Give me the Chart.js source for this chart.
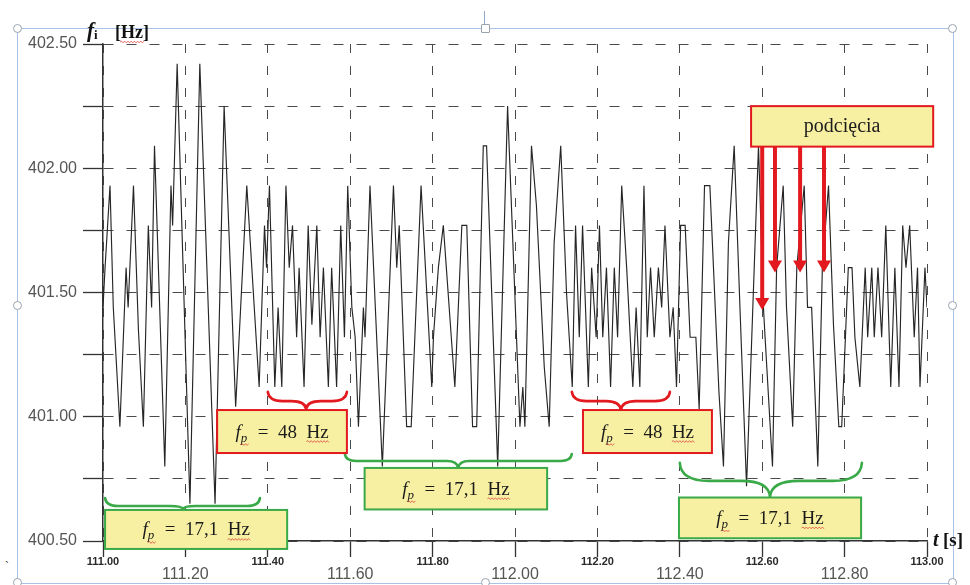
<!DOCTYPE html>
<html><head><meta charset="utf-8">
<script src="https://cdn.jsdelivr.net/npm/chart.js@4.4.1/dist/chart.umd.min.js"></script>
<style>
html,body{margin:0;padding:0;background:#fff;}
#wrap{position:relative;width:970px;height:585px;overflow:hidden;background:#fff;}
#frame{position:absolute;left:17px;top:28px;width:935px;height:554px;border:1px solid #a7c2e6;}
.h{position:absolute;width:7px;height:7px;border:1px solid #9aa3ae;border-radius:50%;background:#fff;}
#cur{position:absolute;left:484px;top:11px;width:1px;height:15px;background:#8fa8c8;}
#tick{position:absolute;left:5px;top:560px;font:12px "Liberation Sans";color:#333;}
canvas{position:absolute;left:0;top:0;}
</style></head><body>
<div id="wrap">
<div id="frame"></div>
<div id="cur"></div>
<div class="h" style="left:13px;top:24px"></div>
<div class="h" style="left:481px;top:24px;border-radius:1px"></div>
<div class="h" style="left:948px;top:24px"></div>
<div class="h" style="left:13px;top:301px"></div>
<div class="h" style="left:948px;top:301px"></div>
<div class="h" style="left:13px;top:578px"></div>
<div class="h" style="left:481px;top:578px"></div>
<div class="h" style="left:948px;top:578px"></div>
<div id="tick">`</div>
<canvas id="c" width="970" height="585"></canvas>
</div>
<script>
// ---- data: time [s] and instantaneous frequency [Hz] ----
const times = [
111.000,111.005,111.017,111.025,111.041,111.056,111.061,111.074,111.086,111.098,
111.110,111.118,111.125,111.150,111.165,111.169,111.180,111.211,111.235,111.272,
111.294,111.322,111.349,111.379,111.392,111.397,111.404,111.417,111.425,111.434,
111.444,111.452,111.460,111.470,111.476,111.488,111.498,
111.507,111.519,111.527,111.535,111.547,111.555,111.567,111.577,111.586,111.594,
111.604,111.612,111.620,111.632,111.636,111.648,111.678,111.705,111.713,111.719,
111.737,111.748,111.772,111.798,111.802,111.814,111.826,111.854,111.871,111.883,
111.897,111.907,111.923,111.931,111.958,111.982,
112.012,112.019,112.024,112.040,112.052,112.071,112.083,112.095,112.111,112.125,
112.139,112.147,112.156,112.164,112.178,112.186,112.197,112.205,112.213,112.222,
112.232,112.241,112.249,112.259,112.271,112.286,112.294,112.303,112.313,112.321,
112.329,112.338,112.348,112.356,112.364,112.376,112.384,112.392,112.402,112.413,
112.425,112.439,112.447,112.460,112.473,112.495,
112.506,112.518,112.532,112.546,112.562,112.591,112.603,112.607,112.625,112.635,
112.651,112.659,112.674,112.684,112.702,112.710,112.720,112.735,112.746,112.761,
112.773,112.786,112.793,112.809,112.818,112.825,112.837,112.850,112.856,112.866,
112.872,112.881,112.890,112.900,112.912,112.922,112.932,112.941,112.949,112.958,
112.969,112.977,112.983,112.995,113.000
];
const freqs = [
401.44,401.60,401.93,401.44,400.96,401.60,401.44,401.93,401.35,400.96,
401.77,401.44,402.09,400.80,401.93,401.77,402.42,400.65,402.42,400.65,
402.25,401.04,401.93,401.12,401.77,401.60,401.93,401.12,401.44,401.12,
401.93,401.60,401.77,401.32,401.60,401.12,401.77,
401.37,401.77,401.32,401.60,401.12,401.60,401.12,401.77,401.32,401.93,
401.44,401.32,400.96,401.44,401.32,401.93,400.80,401.93,401.60,401.77,
400.96,400.96,401.93,401.12,401.32,401.60,401.77,401.12,401.77,401.77,
400.96,400.96,402.09,402.09,400.80,402.25,
400.96,401.12,400.96,402.09,401.85,401.20,400.96,401.70,402.09,401.50,
401.12,401.77,401.32,401.77,401.12,401.60,401.32,401.77,401.32,401.60,
401.12,401.60,401.32,401.93,401.60,401.12,401.44,401.12,401.93,401.32,
401.60,401.32,401.60,401.44,401.77,401.32,401.44,401.12,401.77,401.77,
401.32,401.32,401.03,401.93,401.93,401.10,
400.80,401.70,402.09,401.44,400.72,402.09,401.44,401.32,400.80,401.60,
401.93,401.44,400.96,401.60,401.93,401.44,401.44,400.80,401.60,401.93,
401.37,400.96,400.96,401.60,401.60,401.32,401.12,401.60,401.32,401.60,
401.32,401.60,401.32,401.77,401.12,401.60,401.12,401.77,401.60,401.77,
401.32,401.60,401.12,401.60,401.44
];
const xLabelsSmall = ['111.00','111.40','111.80','112.20','112.60','113.00'];
const xLabelsLarge = ['111.20','111.60','112.00','112.40','112.80'];
const yLabels = ['400.50','401.00','401.50','402.00','402.50'];

// ---- annotation layout (in axis units) ----
const GREEN = '#3aa947', RED = '#e2191f', FILL = '#f7f0a2';
const braces = [
  {c:GREEN, x0:111.005, x1:111.381, xm:111.194, yTop:400.673, yMid:400.641, yTip:400.629},
  {c:RED,   x0:111.400, x1:111.592, xm:111.493, yTop:401.100, yMid:401.063, yTip:401.031},
  {c:GREEN, x0:111.587, x1:112.138, xm:111.862, yTop:400.850, yMid:400.822, yTip:400.794},
  {c:RED,   x0:112.138, x1:112.376, xm:112.257, yTop:401.100, yMid:401.063, yTip:401.027},
  {c:GREEN, x0:112.400, x1:112.842, xm:112.619, yTop:400.815, yMid:400.742, yTip:400.677}
];
const boxes = [
  {c:GREEN, t0:111.005, t1:111.447, f0:400.625, f1:400.468, rest:'  =  17,1  Hz'},
  {c:RED,   t0:111.277, t1:111.592, f0:401.027, f1:400.854, rest:'  =  48  Hz'},
  {c:GREEN, t0:111.635, t1:112.078, f0:400.794, f1:400.627, rest:'  =  17,1  Hz'},
  {c:RED,   t0:112.165, t1:112.478, f0:401.027, f1:400.854, rest:'  =  48  Hz'},
  {c:GREEN, t0:112.398, t1:112.840, f0:400.675, f1:400.511, rest:'  =  17,1  Hz'},
  {c:RED,   t0:112.573, t1:113.015, f0:402.250, f1:402.087, text:'podcięcia'}
];
const arrows = [
  {t:112.600, from:402.087, to:401.43},
  {t:112.631, from:402.087, to:401.58},
  {t:112.692, from:402.087, to:401.58},
  {t:112.750, from:402.087, to:401.58}
];

function squiggle(ctx, x0, x1, y){
  ctx.save(); ctx.strokeStyle='#e04a44'; ctx.lineWidth=0.8; ctx.setLineDash([]);
  ctx.beginPath(); ctx.moveTo(x0,y); let up=true;
  for(let x=x0; x<x1; x+=1.6){ ctx.lineTo(x+1.6, y+(up?-0.9:0.9)); up=!up; }
  ctx.stroke(); ctx.restore();
}
function braceDraw(ctx, b, px, py){
  const x0=px(b.x0), x1=px(b.x1), xm=px(b.xm), yT=py(b.yTop), yM=py(b.yMid), yP=py(b.yTip);
  const r = Math.max(8, (yM-yT)*1.6);
  ctx.save(); ctx.strokeStyle=b.c; ctx.lineWidth=2.6; ctx.lineCap='round'; ctx.lineJoin='round';
  ctx.beginPath();
  ctx.moveTo(x0,yT);
  ctx.quadraticCurveTo(x0+1, yM, x0+r, yM);
  ctx.lineTo(xm-r, yM);
  ctx.quadraticCurveTo(xm-1, yM, xm, yP);
  ctx.quadraticCurveTo(xm+1, yM, xm+r, yM);
  ctx.lineTo(x1-r, yM);
  ctx.quadraticCurveTo(x1-1, yM, x1, yT);
  ctx.stroke(); ctx.restore();
}
function fpText(ctx, cx, cy, rest){
  const F1='italic 19px "Liberation Serif"', F2='italic 13px "Liberation Serif"', F3='19px "Liberation Serif"';
  ctx.font=F1; const w1=ctx.measureText('f').width+1;
  ctx.font=F2; const w2=ctx.measureText('p').width;
  ctx.font=F3; const w3=ctx.measureText(rest).width;
  const hzW = ctx.measureText('Hz').width;
  const x0 = cx-(w1+w2+w3)/2, base = cy+6;
  ctx.fillStyle='#1b1b1b'; ctx.textAlign='left'; ctx.textBaseline='alphabetic';
  ctx.font=F1; ctx.fillText('f', x0, base);
  ctx.font=F2; ctx.fillText('p', x0+w1-1, base+4);
  ctx.font=F3; ctx.fillText(rest, x0+w1+w2, base);
  squiggle(ctx, x0+w1-1, x0+w1+w2, base+7);
  squiggle(ctx, x0+w1+w2+w3-hzW, x0+w1+w2+w3, base+4);
}

const annot = {
  id:'annot',
  afterDraw(chart){
    const ctx = chart.ctx, xs = chart.scales.x, ys = chart.scales.y, ca = chart.chartArea;
    const px = t => xs.getPixelForValue(t), py = f => ys.getPixelForValue(f);
    ctx.save();
    braces.forEach(b => braceDraw(ctx, b, px, py));
    boxes.forEach(b => {
      const x0=px(b.t0), x1=px(b.t1), y0=py(b.f0), y1=py(b.f1);
      ctx.fillStyle=FILL; ctx.fillRect(x0,y0,x1-x0,y1-y0);
      ctx.strokeStyle=b.c; ctx.lineWidth=2; ctx.setLineDash([]); ctx.strokeRect(x0,y0,x1-x0,y1-y0);
      const cx=(x0+x1)/2, cy=(y0+y1)/2;
      if (b.text){
        ctx.font='20px "Liberation Serif"'; ctx.fillStyle='#1b1b1b';
        ctx.textAlign='center'; ctx.textBaseline='middle'; ctx.fillText(b.text, cx, cy);
      } else fpText(ctx, cx, cy, b.rest);
    });
    arrows.forEach(a => {
      const x=px(a.t), y0=py(a.from), y1=py(a.to);
      ctx.strokeStyle=RED; ctx.fillStyle=RED; ctx.lineWidth=4;
      ctx.beginPath(); ctx.moveTo(x,y0); ctx.lineTo(x,y1-10); ctx.stroke();
      ctx.beginPath(); ctx.moveTo(x-7,y1-12); ctx.lineTo(x+7,y1-12); ctx.lineTo(x,y1); ctx.closePath(); ctx.fill();
    });
    // axis titles
    ctx.fillStyle='#111'; ctx.textAlign='left'; ctx.textBaseline='alphabetic';
    ctx.font='bold italic 21px "Liberation Serif"'; ctx.fillText('f', ca.left-16, ca.top-7);
    ctx.font='bold 13px "Liberation Serif"'; ctx.fillText('i', ca.left-9, ca.top-5);
    ctx.font='bold 18px "Liberation Serif"'; ctx.fillText('[Hz]', ca.left+12, ca.top-6);
    const hw = ctx.measureText('[Hz]').width;
    squiggle(ctx, ca.left+17, ca.left+12+hw-5, ca.top-2);
    ctx.font='bold italic 20px "Liberation Serif"'; ctx.fillText('t', ca.right+6, ca.bottom+5);
    ctx.font='bold 19px "Liberation Serif"'; ctx.fillText('[s]', ca.right+16, ca.bottom+5);
    ctx.restore();
  }
};

const pts = times.map((t,i) => ({x:t, y:freqs[i]}));
new Chart(document.getElementById('c'), {
  type:'line',
  data:{ datasets:[{ data:pts, borderColor:'#262626', borderWidth:1.15, pointRadius:0, tension:0, fill:false }] },
  options:{
    responsive:false, animation:false, events:[],
    layout:{ padding:{ top:44, right:43, bottom:0, left:0 } },
    plugins:{ legend:{display:false}, tooltip:{enabled:false} },
    scales:{
      x:{ type:'linear', position:'bottom', min:111, max:113, weight:0,
        afterFit:s=>{ s.height=25; },
        ticks:{ stepSize:0.2, autoSkip:false, maxRotation:0, padding:-2, color:'#2a2a2a',
          font:{family:'"Liberation Sans"', size:11, weight:'bold'},
          callback:(v,i)=> i%2===0 ? xLabelsSmall[i/2] : '' },
        grid:{ color:'#4a4a4a', lineWidth:1, tickLength:16, tickColor:'#333', tickWidth:1.3 },
        border:{ display:true, color:'#333', width:1.5, dash:[9,13] }
      },
      x2:{ type:'linear', axis:'x', position:'bottom', min:111, max:113, weight:1,
        afterFit:s=>{ s.height=19; },
        ticks:{ stepSize:0.2, autoSkip:false, maxRotation:0, padding:-1, color:'#555',
          font:{family:'"Liberation Sans"', size:16},
          callback:(v,i)=> i%2===1 ? xLabelsLarge[(i-1)/2] : '' },
        grid:{ display:false, drawTicks:false, tickLength:0 },
        border:{ display:false }
      },
      y:{ type:'linear', position:'left', min:400.5, max:402.5,
        afterFit:s=>{ s.width=103; },
        ticks:{ stepSize:0.25, autoSkip:false, padding:6, color:'#555',
          font:{family:'"Liberation Sans"', size:16},
          callback:(v,i)=> i%2===0 ? yLabels[i/2] : '' },
        grid:{ color:'#4a4a4a', lineWidth:1, tickLength:20, tickColor:'#333', tickWidth:1.3 },
        border:{ display:true, color:'#333', width:1.5, dash:[10,13] }
      }
    }
  },
  plugins:[annot]
});
</script>
</body></html>
